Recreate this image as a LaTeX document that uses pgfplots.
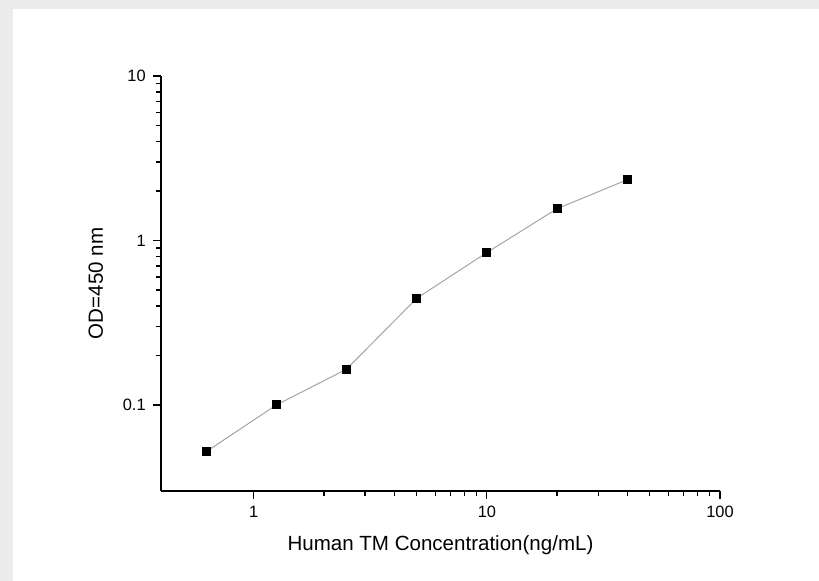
\documentclass[border=0pt]{standalone}
\usepackage{pgfplots}
\pgfplotsset{compat=1.18}
\usepackage{fontspec}
\setmainfont{Liberation Sans}
\definecolor{bggray}{RGB}{236,236,236}
\definecolor{linegray}{RGB}{165,165,165}
\begin{document}
\begin{tikzpicture}
\fill[bggray] (0pt,0pt) rectangle (614.25pt,435.75pt);
\fill[white] (9.75pt,0pt) rectangle (614.25pt,429pt);
\begin{axis}[
  at={(120.75pt,67.5pt)}, anchor=south west,
  scale only axis, width=419.25pt, height=311.25pt,
  xmode=log, ymode=log,
  xmin=0.4, xmax=100, ymin=0.03, ymax=10,
  axis x line*=bottom, axis y line*=left,
  axis line style={line width=1.1pt, -},
  tick align=outside,
  major tick length=6pt, minor tick length=3.5pt,
  every tick/.style={black, line width=0.9pt},
  xtick={1,10,100}, xticklabels={1,10,100},
  ytick={0.1,1,10}, yticklabels={0.1,1,10},
  /pgf/number format/assume math mode=true,
  tick label style={font=\fontsize{12.3}{14}\selectfont},
  xticklabel style={yshift=-2pt},
  yticklabel style={xshift=-2pt},
  label style={font=\fontsize{15.4}{18}\selectfont},
  xlabel={Human TM Concentration(ng/mL)},
  ylabel={OD=450 nm},
  xlabel style={yshift=-6.5pt},
  ylabel style={yshift=8pt},
  clip=false,
]
\addplot[color=linegray, line width=0.75pt, mark=square*, mark size=3pt,
  mark options={fill=black, draw=black, line width=0pt}]
  coordinates {
  (0.625,0.052)
  (1.25,0.100)
  (2.5,0.165)
  (5,0.445)
  (10,0.845)
  (20,1.56)
  (40,2.34)
  };
\end{axis}
\end{tikzpicture}
\end{document}
